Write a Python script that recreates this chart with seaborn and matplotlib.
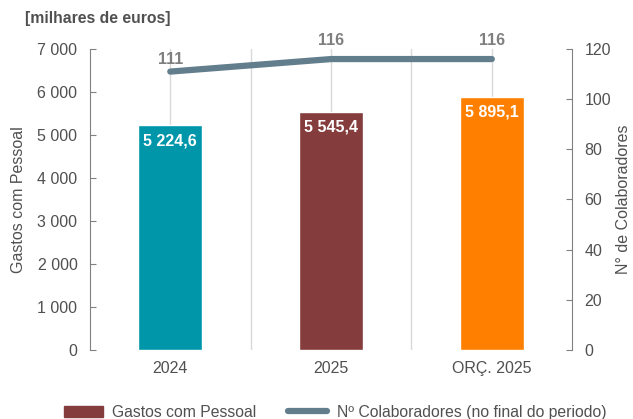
import pandas as pd
import matplotlib.pyplot as plt
import seaborn as sns
from matplotlib.patches import Patch
from matplotlib.lines import Line2D

# dados
categorias = ['2024', '2025', 'ORÇ. 2025']
gastos = [5224.6, 5545.4, 5895.1]
colaboradores = [111, 116, 116]
cores = ['#0096AA', '#843C3C', '#FF8000']
cor_linha = '#627D8C'
cor_texto = '#505050'

sns.set_style('white')
plt.rcParams['font.family'] = ['Liberation Sans', 'DejaVu Sans']

df = pd.DataFrame({'cat': categorias, 'gastos': gastos, 'colab': colaboradores})

fig = plt.figure(figsize=(6.33, 4.19), dpi=100)
ax = fig.add_axes([0.142, 0.165, 0.762, 0.718])

sns.barplot(data=df, x='cat', y='gastos', hue='cat', palette=cores,
            width=0.4, saturation=1, legend=False, ax=ax, zorder=2)
ax.set_ylim(0, 7000)
ax.set_xlim(-0.5, 2.5)
ax.set_yticks(range(0, 7001, 1000))
ax.set_yticklabels([f'{v:,}'.replace(',', ' ') for v in range(0, 7001, 1000)])
ax.set_xlabel('')
ax.set_ylabel('Gastos com Pessoal', fontsize=11.5, color=cor_texto, labelpad=8)

# grelha vertical
for x in [0, 0.5, 1, 1.5, 2]:
    ax.axvline(x, color='#D9D9D9', lw=1, zorder=0)

for i, v in enumerate(gastos):
    txt = f'{v:,.1f}'.replace(',', ' ').replace('.', ',')
    ax.text(i, v - 370, txt, ha='center', va='center', color='white',
            fontsize=11.5, fontweight='bold', zorder=3)

ax2 = ax.twinx()
sns.lineplot(data=df, x='cat', y='colab', color=cor_linha, lw=4.5,
             ax=ax2, zorder=4)
ax2.set_ylim(0, 120)
ax2.set_yticks(range(0, 121, 20))
ax2.set_ylabel('N° de Colaboradores', fontsize=11.5, color=cor_texto, labelpad=3)
offs = [5, 7.5, 7.5]
for i, v in enumerate(colaboradores):
    ax2.text(i, v + offs[i], str(v), ha='center', va='center', color='#7F7F7F',
             fontsize=11.5, fontweight='bold', zorder=5)

for a in [ax, ax2]:
    for s in ['top', 'bottom']:
        a.spines[s].set_visible(False)
    a.tick_params(axis='y', direction='in', length=4, color='#808080',
                  labelsize=11.5, labelcolor=cor_texto, pad=9)
    a.tick_params(axis='x', length=0, labelsize=11.5, labelcolor=cor_texto, pad=8)
ax.spines['right'].set_visible(False)
ax.spines['left'].set_color('#808080')
ax2.spines['left'].set_visible(False)
ax2.spines['right'].set_color('#808080')

fig.text(0.04, 0.955, '[milhares de euros]', fontsize=11.3, fontweight='bold',
         color=cor_texto, va='center')

handles = [Patch(color=cores[1]),
           Line2D([0], [0], color=cor_linha, lw=4.5)]
fig.legend(handles, ['Gastos com Pessoal', 'Nº Colaboradores (no final do periodo)'],
           loc='lower center', bbox_to_anchor=(0.529, -0.035), ncol=2, frameon=False,
           fontsize=11.3, labelcolor=cor_texto, handlelength=2.5,
           handletextpad=0.6, columnspacing=2.0)

fig.savefig('out.png', dpi=100)
